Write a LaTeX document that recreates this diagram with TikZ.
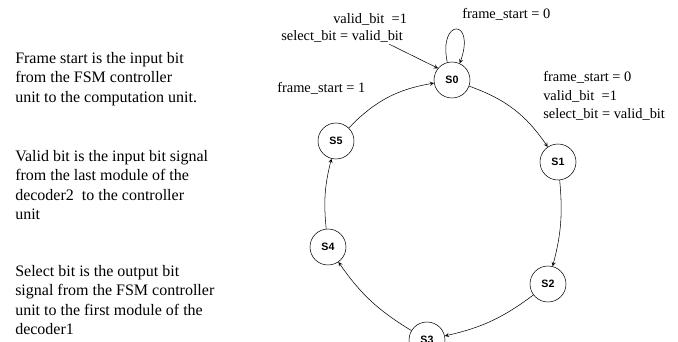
\documentclass[tikz,border=0pt]{standalone}
\usepackage{fontspec}
\setmainfont{Liberation Serif}
\newfontfamily\statefont{Liberation Sans}
\begin{document}
\begin{tikzpicture}[x=0.75pt,y=-0.75pt,>=stealth,
	state/.style={draw,circle,minimum size=27pt,inner sep=0pt,font=\statefont\bfseries\footnotesize},
	lbl/.style={font=\fontsize{10.8}{14}\selectfont,align=left,inner sep=0pt},
	note/.style={font=\fontsize{12}{14.6}\selectfont,align=left,inner sep=0pt,anchor=north west}]
	\useasboundingbox (0,0) rectangle (678,342);
	% states
	\node[state] (S0) at (452,80) {S0};
	\node[state] (S1) at (558,162) {S1};
	\node[state] (S2) at (548,284) {S2};
	\node[state] (S3) at (427,340) {S3};
	\node[state] (S4) at (328,247) {S4};
	\node[state] (S5) at (336,141) {S5};
	% transitions
	\draw[->] (S0) to[bend left=18] (S1);
	\draw[->] (S1) to[bend left=10] (S2);
	\draw[->] (S2) to[bend left=12] (S3);
	\draw[->] (S3) to[bend left=12] (S4);
	\draw[->] (S4) to[bend left=10] (S5);
	\draw[->] (S5) to[bend left=18] (S0);
	\draw[->] (S0.105) .. controls (438,18) and (476,18) .. (S0.65);
	% labels
	\node[lbl,anchor=west] (l1) at (333,19) {valid\_bit \ =1};
	\node[lbl,anchor=west] (l2) at (281,36) {select\_bit = valid\_bit};
	\draw[->] (l2.south east) ++(-14,2) coordinate (l2e) (l2e) -- (S0.140);
	\node[lbl,anchor=west] (l3) at (462,14) {frame\_start = 0};
	\node[lbl,anchor=west] (l4) at (277,88) {frame\_start = 1};
	\node[lbl,anchor=north west] (l5) at (543,71) {frame\_start = 0\\valid\_bit \ =1\\select\_bit = valid\_bit};
	% notes
	\node[note] (n1) at (15,52) {Frame start is the input bit\\from the FSM controller\\unit to the computation unit.};
	\node[note] (n2) at (15,150) {Valid bit is the input bit signal\\from the last module of the\\decoder2 \ to the controller\\unit};
	\node[note] (n3) at (15,265) {Select bit is the output bit\\signal from the FSM controller\\unit to the first module of the\\decoder1};
\end{tikzpicture}
\end{document}
